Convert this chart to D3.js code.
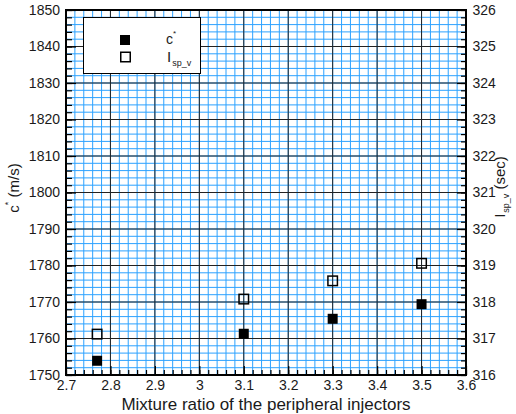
<!DOCTYPE html>
<html>
<head>
<meta charset="utf-8">
<script src="https://cdn.jsdelivr.net/npm/d3@7"></script>
<style>
  html, body { margin: 0; padding: 0; background: #fff; }
  svg text { font-family: "Liberation Sans", Arial, sans-serif; fill: #1a1a1a; }
</style>
</head>
<body>
<svg id="chart" width="516" height="414"></svg>
<script>
// ---- data ----
const mixtureRatio = [2.77, 3.1, 3.3, 3.5];
const cStar = [1753.9, 1761.3, 1765.4, 1769.4];     // m/s (left axis)
const ispV = [317.12, 318.08, 318.58, 319.06];      // sec (right axis)
const xTickLabels = [2.7, 2.8, 2.9, 3.0, 3.1, 3.2, 3.3, 3.4, 3.5, 3.6];
const yLeftTickLabels = [1750, 1760, 1770, 1780, 1790, 1800, 1810, 1820, 1830, 1840, 1850];
const yRightTickLabels = [316, 317, 318, 319, 320, 321, 322, 323, 324, 325, 326];
const xTitle = "Mixture ratio of the peripheral injectors";

// ---- layout ----
const L = 66, R = 466, T = 10, B = 375;
const svg = d3.select("#chart");
svg.append("rect").attr("width", 516).attr("height", 414).attr("fill", "#fff");

const x = d3.scaleLinear().domain([2.7, 3.6]).range([L, R]);
const yL = d3.scaleLinear().domain([1750, 1850]).range([B, T]);
const yR = d3.scaleLinear().domain([316, 326]).range([B, T]);

const xMinor = x.ticks(45);
const yMinor = yL.ticks(50);
const yRMinor = yR.ticks(50);

// minor grid (blue)
const grid = svg.append("g");
grid.selectAll(".vx").data(xMinor).join("line")
  .attr("x1", d => x(d)).attr("x2", d => x(d)).attr("y1", T).attr("y2", B)
  .attr("stroke", "#2ca2ff").attr("stroke-width", 1);
grid.selectAll(".hy").data(yMinor).join("line")
  .attr("y1", d => yL(d)).attr("y2", d => yL(d)).attr("x1", L).attr("x2", R)
  .attr("stroke", "#2ca2ff").attr("stroke-width", 1);
// major grid (dark)
grid.selectAll(".vX").data(xTickLabels).join("line")
  .attr("x1", d => x(d)).attr("x2", d => x(d)).attr("y1", T).attr("y2", B)
  .attr("stroke", "#222").attr("stroke-width", 1);
grid.selectAll(".hY").data(yLeftTickLabels).join("line")
  .attr("y1", d => yL(d)).attr("y2", d => yL(d)).attr("x1", L).attr("x2", R)
  .attr("stroke", "#222").attr("stroke-width", 1);

// axes
const fmt = d => String(+d.toFixed(1));
function styleAxis(g) {
  g.selectAll(".domain").remove();
  g.selectAll(".tick line").attr("stroke", "#000").attr("stroke-width", 1.2);
  g.selectAll("text").attr("font-size", 14).attr("fill", "#1a1a1a")
    .style("font-family", "'Liberation Sans', Arial, sans-serif");
}
// bottom
svg.append("g").attr("transform", `translate(0,${B})`)
  .call(d3.axisBottom(x).tickValues(xMinor).tickSize(-5).tickFormat(""))
  .call(styleAxis);
svg.append("g").attr("transform", `translate(0,${B})`)
  .call(d3.axisBottom(x).tickValues(xTickLabels).tickSize(-9).tickPadding(5).tickFormat(fmt))
  .call(styleAxis);
// left
svg.append("g").attr("transform", `translate(${L},0)`)
  .call(d3.axisLeft(yL).tickValues(yMinor).tickSize(-6).tickFormat(""))
  .call(styleAxis);
svg.append("g").attr("transform", `translate(${L},0)`)
  .call(d3.axisLeft(yL).tickValues(yLeftTickLabels).tickSize(-10).tickPadding(6).tickFormat(fmt))
  .call(styleAxis);
// right
svg.append("g").attr("transform", `translate(${R},0)`)
  .call(d3.axisRight(yR).tickValues(yRMinor).tickSize(-5).tickFormat(""))
  .call(styleAxis);
svg.append("g").attr("transform", `translate(${R},0)`)
  .call(d3.axisRight(yR).tickValues(yRightTickLabels).tickSize(-9).tickPadding(6.5).tickFormat(fmt))
  .call(styleAxis);

// frame
svg.append("rect").attr("x", L).attr("y", T).attr("width", R - L).attr("height", B - T)
  .attr("fill", "none").attr("stroke", "#000").attr("stroke-width", 2);

// legend
const lg = svg.append("g");
lg.append("rect").attr("x", 83.5).attr("y", 17.5).attr("width", 117).attr("height", 56)
  .attr("fill", "#fff").attr("stroke", "#000").attr("stroke-width", 1);
lg.append("rect").attr("x", 120).attr("y", 35).attr("width", 10).attr("height", 10).attr("fill", "#000");
lg.append("rect").attr("x", 120.75).attr("y", 52.25).attr("width", 9.5).attr("height", 9.5)
  .attr("fill", "#fff").attr("stroke", "#000").attr("stroke-width", 1.5);
const t1 = lg.append("text").attr("x", 166).attr("y", 44).attr("font-size", 14);
t1.append("tspan").text("c");
t1.append("tspan").attr("font-size", 8).attr("dy", -8).text("*");
const t2 = lg.append("text").attr("x", 167).attr("y", 62).attr("font-size", 15);
t2.append("tspan").text("I");
t2.append("tspan").attr("font-size", 9).attr("dy", 4).attr("dx", 1).text("sp_v");

// data points
svg.append("g").selectAll("rect").data(mixtureRatio.map((m, i) => [m, cStar[i]])).join("rect")
  .attr("x", d => x(d[0]) - 5).attr("y", d => yL(d[1]) - 5)
  .attr("width", 10).attr("height", 10).attr("fill", "#000");
svg.append("g").selectAll("rect").data(mixtureRatio.map((m, i) => [m, ispV[i]])).join("rect")
  .attr("x", d => x(d[0]) - 4.75).attr("y", d => yR(d[1]) - 4.75)
  .attr("width", 9.5).attr("height", 9.5).attr("fill", "none")
  .attr("stroke", "#000").attr("stroke-width", 1.5);

// titles
svg.append("text").attr("x", (L + R) / 2).attr("y", 409.5).attr("text-anchor", "middle")
  .attr("font-size", 17).text(xTitle);

const yt = svg.append("text").attr("transform", "translate(19,188) rotate(-90)")
  .attr("text-anchor", "middle").attr("font-size", 15);
yt.append("tspan").text("c");
yt.append("tspan").attr("font-size", 9).attr("dy", -8).text("*");
yt.append("tspan").attr("dy", 8).text(" (m/s)");

const yrt = svg.append("text").attr("transform", "translate(505,187) rotate(-90)")
  .attr("text-anchor", "middle").attr("font-size", 15);
yrt.append("tspan").text("I");
yrt.append("tspan").attr("font-size", 9).attr("dy", 4).attr("dx", 1).text("sp_v");
yrt.append("tspan").attr("dy", -4).text(" (sec)");
</script>
</body>
</html>
